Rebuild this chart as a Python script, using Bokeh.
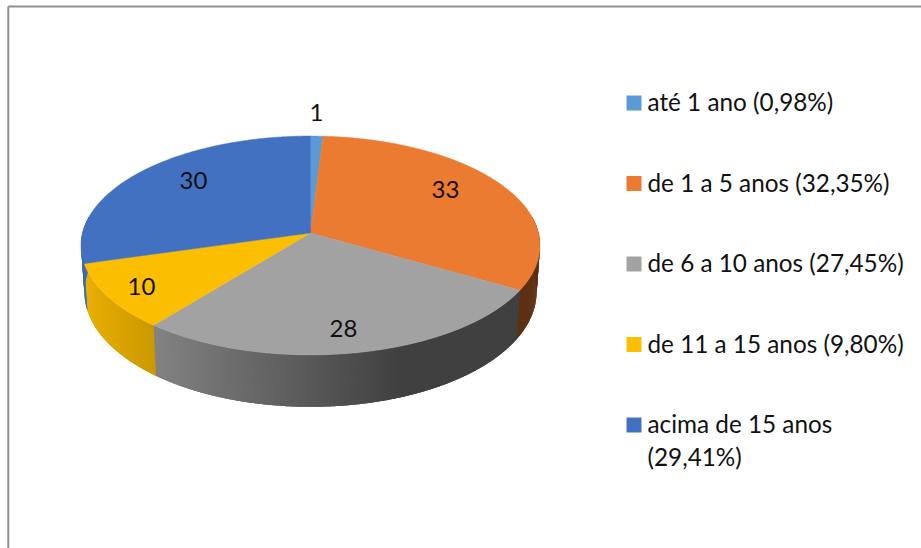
import numpy as np
from bokeh.plotting import figure
from bokeh.models import ColumnDataSource, Range1d
from bokeh.core.properties import value
from bokeh.embed import file_html
from bokeh.resources import INLINE

# ---- data
counts = [1, 33, 28, 10, 30]
percents = [0.98, 32.35, 27.45, 9.80, 29.41]
legend_lines = [
    ["até 1 ano (0,98%)"],
    ["de 1 a 5 anos (32,35%)"],
    ["de 6 a 10 anos (27,45%)"],
    ["de 11 a 15 anos (9,80%)"],
    ["acima de 15 anos", "(29,41%)"],
]
colors = ["#5B9BD5", "#EB7B30", "#A2A2A2", "#FCBE00", "#4371C1"]
label_x = [316, 445, 343, 141, 193]
label_y = [112, 189, 328, 286, 180]

# ---- layout / style
W, H = 921, 548
CX, CY = 310.0, 232.5      # apex of the pie in page pixels
RX, RY, PERSP = 228.0, 108.0, 0.114
DEPTH, BOTTOM_SCALE = 46.0, 0.985
FONT = "Lato"
TEXT_COLOR = "#111111"
FRAME = "#8f8f8f"

p = figure(width=W, height=H, output_backend="svg", toolbar_location=None,
           x_range=Range1d(0, W), y_range=Range1d(H, 0),
           x_axis_type=None, y_axis_type=None, min_border=0)
p.grid.visible = False
p.outline_line_color = None
p.background_fill_color = "white"
p.border_fill_color = "white"


def top(theta):
    u, v = np.sin(theta), np.cos(theta)
    d = 1 + PERSP * v
    return CX + RX * u / d, CY - RY * v / d


def bottom(theta):
    x, y = top(theta)
    v = np.cos(theta)
    return CX + (x - CX) * BOTTOM_SCALE, y + DEPTH / (1 + PERSP * v)


def shade(hex_color, x):
    f = float(np.clip(0.92 - (x - 85) * (0.52 / 315), 0.40, 0.92))
    rgb = [int(hex_color[i:i + 2], 16) for i in (1, 3, 5)]
    return "#%02x%02x%02x" % tuple(int(c * f) for c in rgb)


fractions = np.array(counts, dtype=float) / sum(counts)
edges = np.concatenate([[0.0], np.cumsum(fractions)]) * 2 * np.pi

# side wall, cut in thin overlapping strips to carry the horizontal gradient
sx, sy, sc = [], [], []
WALL_END = np.pi * 1.55
for i, col in enumerate(colors):
    a0, a1 = max(edges[i], np.pi * 0.45), min(edges[i + 1], WALL_END)
    if a1 <= a0:
        continue
    n = max(2, int((a1 - a0) * RX / 1.5))
    step = (a1 - a0) / n
    for k in range(n):
        t0 = a0 + k * step
        t1 = min(t0 + 2.5 * step, WALL_END)
        ts = np.linspace(t0, t1, 4)
        xt, yt = top(ts)
        xb, yb = bottom(ts[::-1])
        sx.append(list(xt) + list(xb))
        sy.append(list(yt) + list(yb))
        sc.append(shade(col, top(t0 + step / 2)[0]))
p.patches("x", "y", source=ColumnDataSource(dict(x=sx, y=sy, c=sc)),
          fill_color="c", line_color=None)

# top faces
tx, ty = [], []
for i in range(len(counts)):
    ts = np.linspace(edges[i], edges[i + 1], max(3, int((edges[i + 1] - edges[i]) * 120)))
    x, y = top(ts)
    tx.append([CX] + list(x))
    ty.append([CY] + list(y))
p.patches("x", "y", source=ColumnDataSource(dict(x=tx, y=ty, c=colors)),
          fill_color="c", line_color="c", line_width=0.5)

# data labels
p.text(x=label_x, y=label_y, text=[str(c) for c in counts],
       text_font=value(FONT), text_font_size="24px", text_color=TEXT_COLOR,
       text_align="center", text_baseline="middle")

# legend
LEG_X, LEG_Y, LEG_STEP, LEG_SIZE, LEG_TEXT_X, LINE_H = 626, 102.5, 80.5, 15, 647, 33
for i, lines in enumerate(legend_lines):
    yc = LEG_Y + i * LEG_STEP
    p.rect(x=[LEG_X + LEG_SIZE / 2], y=[yc], width=LEG_SIZE, height=LEG_SIZE,
           fill_color=colors[i], line_color=None)
    p.text(x=[LEG_TEXT_X] * len(lines), y=[yc - 1.5 + k * LINE_H for k in range(len(lines))],
           text=lines, text_font=value(FONT), text_font_size="24.3px",
           text_color=TEXT_COLOR, text_baseline="middle")

# chart frame (top and left edges)
p.line(x=[7.8, W], y=[6, 6], line_color=FRAME, line_width=2)
p.line(x=[7.8, 7.8], y=[6, H], line_color=FRAME, line_width=2)

open("out.html", "w").write(file_html(p, INLINE))
